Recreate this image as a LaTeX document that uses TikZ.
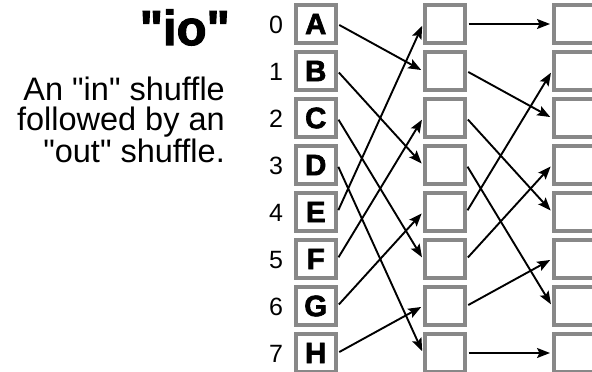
\documentclass[tikz,border=0pt]{standalone}
\usepackage{fontspec}
\newfontfamily\plain{Liberation Sans}
\newfontfamily\heavy[BoldFeatures={FakeBold=2.2}]{Liberation Sans}
\usetikzlibrary{arrows.meta}
\definecolor{boxgray}{RGB}{136,136,136}
\begin{document}
\begin{tikzpicture}[x=1pt,y=-1pt,
  cell/.style={draw=boxgray, line width=4pt, minimum width=39.5pt, minimum height=38pt,
    inner sep=0pt, fill=white, font=\heavy\bfseries\fontsize{29.5}{29.5}\selectfont},
  link/.style={-{Stealth[length=13pt,width=10pt,inset=2.5pt]}, line width=1.9pt,
    shorten <=2pt, shorten >=2pt},
  idx/.style={anchor=base, font=\plain\fontsize{25}{25}\selectfont, inner sep=0pt},
  desc/.style={anchor=base east, align=right, font=\plain\fontsize{32.5}{30}\selectfont, inner sep=0pt},
  ttl/.style={anchor=base east, font=\heavy\bfseries\fontsize{49}{49}\selectfont, inner sep=0pt}]
\useasboundingbox (0,0) rectangle (592,372);
\node[ttl] (title) at (230,45) {"io"};
\node[desc] (desc) at (225,162) {An "in" shuffle\\followed by an\\"out" shuffle.};
\foreach \L/\i in {A/0,B/1,C/2,D/3,E/4,F/5,G/6,H/7}{
  \node[cell] (a\i) at (315.75,{24+47*\i}) {\L};
  \node[idx] (n\i) at (276,{33+47*\i}) {\i};
}
\foreach \i in {0,...,7}{
  \node[cell] (b\i) at (444.75,{24+47*\i}) {};
  \node[cell] (c\i) at (573.75,{24+47*\i}) {};
}
\foreach \i/\j in {0/1,1/3,2/5,3/7,4/0,5/2,6/4,7/6}
  \draw[link] (a\i.east) -- (b\j.west);
\foreach \i/\j in {0/0,1/2,2/4,3/6,4/1,5/3,6/5,7/7}
  \draw[link] (b\i.east) -- (c\j.west);
\end{tikzpicture}
\end{document}
